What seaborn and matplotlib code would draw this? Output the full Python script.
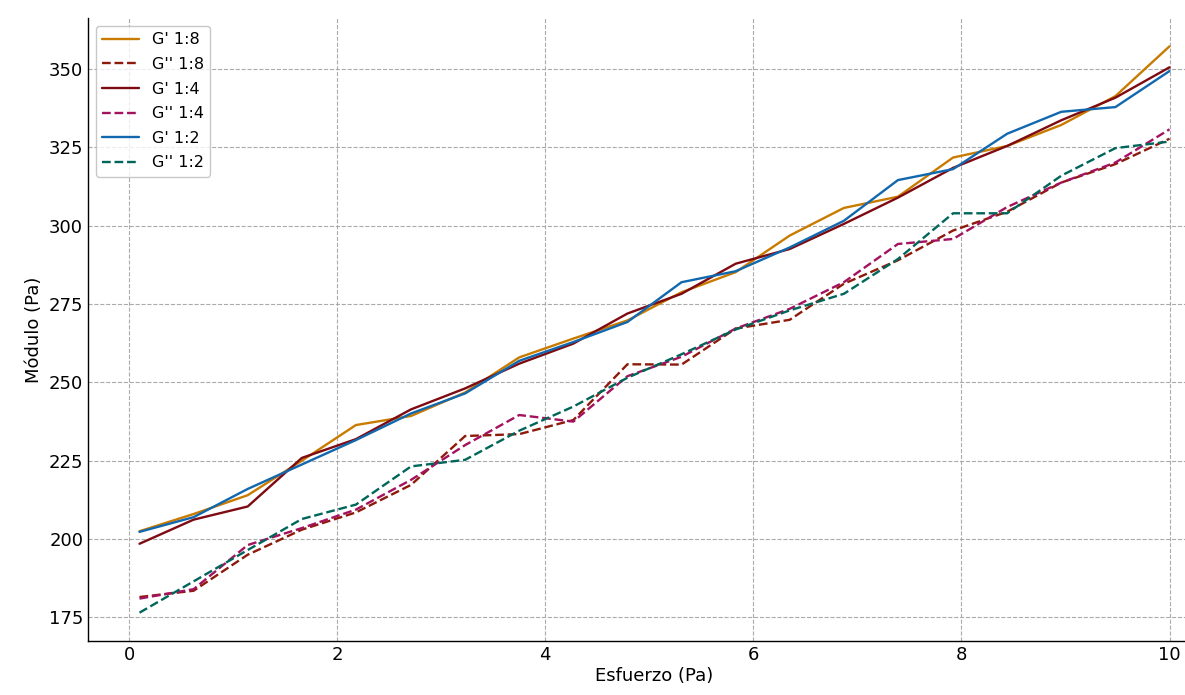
import numpy as np
import pandas as pd
import seaborn as sns
import matplotlib.pyplot as plt

# Esfuerzo values (20 points from 0.1 to 10 Pa)
esfuerzo = [0.10, 0.62, 1.14, 1.66, 2.18, 2.71, 3.23, 3.75, 4.27, 4.79,
            5.31, 5.83, 6.35, 6.87, 7.39, 7.92, 8.44, 8.96, 9.48, 10.0]

g1_18 = [202.5, 208.0, 214.0, 225.0, 236.4, 239.3, 246.8, 258.0, 264.0, 269.8,
         278.8, 285.2, 296.9, 305.7, 309.3, 321.8, 325.5, 332.2, 341.4, 357.3]
g2_18 = [181.5, 183.5, 195.0, 203.0, 208.5, 217.3, 232.9, 233.5, 238.0, 255.8,
         255.7, 267.2, 270.0, 281.5, 289.0, 298.5, 304.5, 313.8, 319.7, 327.8]
g1_14 = [198.5, 206.2, 210.4, 225.9, 231.9, 241.4, 248.1, 256.0, 262.4, 272.0,
         278.3, 287.9, 292.6, 300.6, 309.0, 318.5, 325.5, 333.7, 340.9, 350.6]
g2_14 = [181.0, 184.0, 198.1, 203.5, 209.4, 218.9, 230.0, 239.6, 237.5, 252.0,
         258.2, 267.2, 273.5, 282.0, 294.2, 295.8, 306.0, 313.8, 320.2, 330.8]
g1_12 = [202.3, 207.0, 216.0, 223.8, 231.6, 240.1, 246.5, 256.9, 262.9, 269.3,
         282.0, 285.5, 293.1, 301.6, 314.6, 318.1, 329.4, 336.4, 337.9, 349.4]
g2_12 = [176.5, 186.5, 196.5, 206.4, 211.0, 223.2, 225.3, 234.6, 242.3, 251.5,
         259.0, 266.9, 273.0, 278.3, 289.4, 304.0, 304.0, 316.0, 324.8, 326.9]

labels = ["G' 1:8", "G'' 1:8", "G' 1:4", "G'' 1:4", "G' 1:2", "G'' 1:2"]
series = [g1_18, g2_18, g1_14, g2_14, g1_12, g2_12]
colors = ['#C97B00', '#8E1A0C', '#7E0A12', '#A3125E', '#1168AE', '#00665A']
styles = ['-', '--', '-', '--', '-', '--']

sns.set_style('white')
plt.rcParams['font.family'] = ['DejaVu Sans']
plt.rcParams['text.color'] = 'black'
plt.rcParams['axes.labelcolor'] = 'black'

fig = plt.figure(figsize=(11.85, 6.95), dpi=100)
# axes run past the right edge, as in the reference (cropped)
ax = fig.add_axes([88 / 1185, 54 / 695, 1133 / 1185, 623 / 695])

for lab, vals, col, ls in zip(labels, series, colors, styles):
    df = pd.DataFrame({'Esfuerzo (Pa)': esfuerzo, 'Módulo (Pa)': vals})
    sns.lineplot(data=df, x='Esfuerzo (Pa)', y='Módulo (Pa)', ax=ax,
                 color=col, linestyle=ls, linewidth=1.7, label=lab)

ax.set_yticks([175, 200, 225, 250, 275, 300, 325, 350])
ax.set_xticks([0, 2, 4, 6, 8, 10])
ax.grid(True, linestyle='--', color='#aaaaaa', linewidth=0.8)
ax.tick_params(axis='both', direction='in', length=4, labelsize=13,
               colors='black')
ax.set_xlabel('Esfuerzo (Pa)', fontsize=13, labelpad=2)
ax.set_ylabel('Módulo (Pa)', fontsize=13)
sns.despine(ax=ax, top=True, right=True)
for s in ['left', 'bottom']:
    ax.spines[s].set_color('black')
    ax.spines[s].set_linewidth(1.0)

leg = ax.legend(loc='upper left', fontsize=11.5, labelspacing=0.6,
                handlelength=2.3, handletextpad=0.8, frameon=True,
                edgecolor='#bbbbbb', borderaxespad=0.5)
for t in leg.get_texts():
    t.set_color('black')

fig.savefig('out.png', dpi=100)
